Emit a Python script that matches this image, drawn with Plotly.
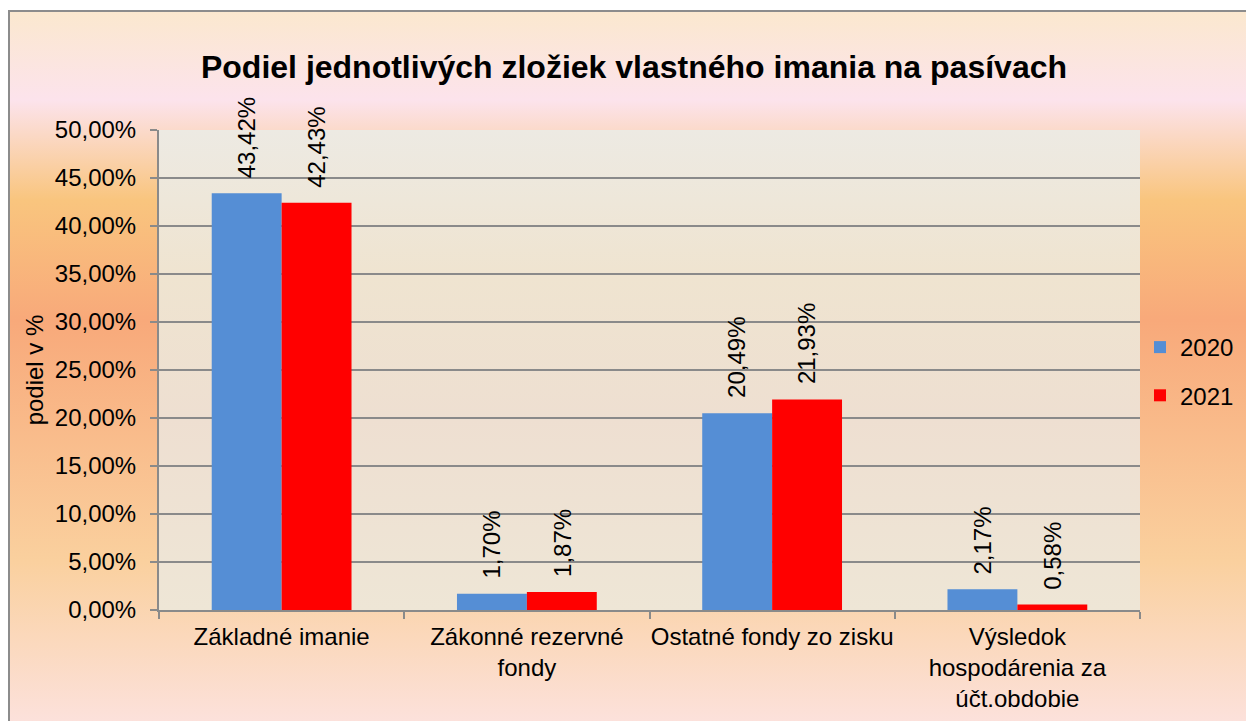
import base64
import plotly.graph_objects as go

# Equity components as a share of total liabilities (%)
categories = [
    "Základné imanie",
    "Zákonné rezervné<br>fondy",
    "Ostatné fondy zo zisku",
    "Výsledok<br>hospodárenia za<br>účt.obdobie",
]
years = ["2020", "2021"]
share_2020 = [43.42, 1.70, 20.49, 2.17]
share_2021 = [42.43, 1.87, 21.93, 0.58]
y_ticks = [0, 5, 10, 15, 20, 25, 30, 35, 40, 45, 50]

W, H = 1246, 721
M_L, M_R, M_T, M_B = 159, 106, 130, 111
PW, PH = W - M_L - M_R, H - M_T - M_B
FONT = "Liberation Sans, Arial, sans-serif"
FS = 24
BLUE, RED = "#558ED5", "#FF0000"
GRID = "#8A8A8A"


def pct(v):
    return f"{v:.2f}".replace(".", ",") + "%"


def px_x(px):
    return (px - M_L) / PW


def px_y(py):
    return (H - M_B - py) / PH


def gradient_uri(w, h, stops):
    stop_xml = "".join(f'<stop offset="{o:.4f}" stop-color="{c}"/>' for o, c in stops)
    svg = (
        f'<svg xmlns="http://www.w3.org/2000/svg" width="{w}" height="{h}" '
        f'viewBox="0 0 {w} {h}" preserveAspectRatio="none">'
        f'<defs><linearGradient id="g" x1="0" y1="0" x2="0" y2="1">{stop_xml}'
        f'</linearGradient></defs><rect width="{w}" height="{h}" fill="url(#g)"/></svg>'
    )
    return "data:image/svg+xml;base64," + base64.b64encode(svg.encode()).decode()


# chart-area background, from the frame's top edge down past the bottom
bg_top, bg_bot = 10, 721
bg_h = bg_bot - bg_top
paper_stops = [
    (0.0, "#FBE8CE"),
    ((100 - bg_top) / bg_h, "#FCE3EC"),
    ((200 - bg_top) / bg_h, "#F9C57E"),
    ((320 - bg_top) / bg_h, "#F8A97A"),
    ((560 - bg_top) / bg_h, "#FAD09E"),
    (1.0, "#FCE1DB"),
]
plot_stops = [
    (0.0, "#EDEAE3"),
    (0.3, "#EFE4D0"),
    (0.6, "#EEDFD1"),
    (1.0, "#EEE6D6"),
]

fig = go.Figure()
for name, vals, col in [(years[0], share_2020, BLUE), (years[1], share_2021, RED)]:
    fig.add_trace(go.Bar(
        x=categories, y=vals, name=name, legendgroup=name,
        marker=dict(color=col, line=dict(width=0)),
    ))

# rotated value labels above each bar
annotations = []
for vals, shift in [(share_2020, -35), (share_2021, 35)]:
    for cat, v in zip(categories, vals):
        annotations.append(dict(
            x=cat, y=v, xref="x", yref="y", xshift=shift, yshift=13,
            text=pct(v),
            textangle=-90, showarrow=False, xanchor="center", yanchor="bottom",
            font=dict(family=FONT, size=FS, color="black"),
        ))

fig.update_layout(
    width=W, height=H,
    margin=dict(l=M_L, r=M_R, t=M_T, b=M_B, pad=0, autoexpand=False),
    paper_bgcolor="white",
    plot_bgcolor="rgba(0,0,0,0)",
    separators=", ",
    font=dict(family=FONT, size=FS, color="black"),
    title=dict(
        text="<b>Podiel jednotlivých zložiek vlastného imania na pasívach</b>",
        x=634 / W, xref="container", xanchor="center",
        y=1 - 67 / H, yref="container", yanchor="middle",
        font=dict(family=FONT, size=32, color="black"),
    ),
    barmode="group", bargap=0.43, bargroupgap=0,
    showlegend=True,
    legend=dict(
        x=px_x(1140), y=px_y(325), xanchor="left", yanchor="top",
        bgcolor="rgba(0,0,0,0)", tracegroupgap=14,
        font=dict(family=FONT, size=FS, color="black"),
    ),
    xaxis=dict(
        type="category", automargin=False, tickangle=0,
        showgrid=False, showline=True, linecolor=GRID, linewidth=2,
        ticks="outside", tickson="boundaries", ticklen=7, tickcolor=GRID, tickwidth=2,
        ticklabelstandoff=4, tickfont=dict(family=FONT, size=FS, color="black"),
    ),
    yaxis=dict(
        range=[0, 50], automargin=False, tickmode="array", tickvals=y_ticks,
        ticktext=[pct(v) for v in y_ticks],
        showgrid=True, gridcolor=GRID, gridwidth=2, zeroline=False,
        showline=True, linecolor=GRID, linewidth=2,
        ticks="outside", ticklen=7, tickcolor=GRID, tickwidth=2,
        ticklabelstandoff=9, tickfont=dict(family=FONT, size=FS, color="black"),
        title=dict(text="podiel v %", standoff=4, font=dict(family=FONT, size=FS, color="black")),
    ),
    annotations=annotations,
    images=[
        dict(
            source=gradient_uri(W - 8, bg_h, paper_stops),
            xref="paper", yref="paper", x=px_x(8), y=px_y(bg_top),
            sizex=(W - 8) / PW, sizey=bg_h / PH, sizing="stretch",
            xanchor="left", yanchor="top", layer="below",
        ),
        dict(
            source=gradient_uri(PW, PH, plot_stops),
            xref="paper", yref="paper", x=0, y=1, sizex=1, sizey=1,
            sizing="stretch", xanchor="left", yanchor="top", layer="below",
        ),
    ],
    shapes=[
        dict(
            type="rect", xref="paper", yref="paper",
            x0=px_x(9), y0=px_y(H + 20), x1=px_x(W + 20), y1=px_y(11),
            line=dict(color="#8C8C8C", width=2), fillcolor="rgba(0,0,0,0)", layer="above",
        ),
    ],
)

fig.write_html("out.html")
